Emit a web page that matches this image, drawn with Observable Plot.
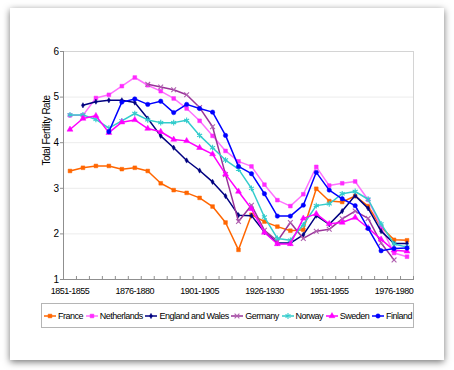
<!DOCTYPE html>
<html><head><meta charset="utf-8">
<script src="https://cdn.jsdelivr.net/npm/d3@7"></script>
<script src="https://cdn.jsdelivr.net/npm/@observablehq/plot@0.6"></script>
<style>
html,body{margin:0;padding:0;background:#fff;}
#wrap{position:relative;width:454px;height:370px;overflow:hidden;}
#card{position:absolute;left:10px;top:8px;width:434px;height:352px;background:#fff;box-shadow:0 2px 7px rgba(0,0,0,0.55);}
#chart{position:absolute;left:0;top:0;}
#legend{position:absolute;left:41px;top:303px;width:368px;height:23px;border:1px solid #b5b5b5;display:flex;align-items:center;justify-content:space-between;padding:0 1px 0 2px;
  font:9px "Liberation Sans",Arial,sans-serif;letter-spacing:-0.5px;color:#000;background:#fff;}
#legend .item{display:flex;align-items:center;white-space:nowrap;}
#legend svg{margin-right:2px;}
</style></head>
<body><div id="wrap"><div id="card"></div><div id="chart"></div><div id="legend"></div></div>
<script>
const periods = ["1851-1855","1856-1860","1861-1865","1866-1870","1871-1875","1876-1880","1881-1885","1886-1890","1891-1895","1896-1900","1901-1905","1906-1910","1911-1915","1916-1920","1921-1925","1926-1930","1931-1935","1936-1940","1941-1945","1946-1950","1951-1955","1956-1960","1961-1965","1966-1970","1971-1975","1976-1980","1981-1985"];
const tickLabels = ["1851-1855","1876-1880","1901-1905","1926-1930","1951-1955","1976-1980"];
const yTicks = [1,2,3,4,5,6];

const france      = [3.38,3.45,3.49,3.49,3.42,3.45,3.38,3.11,2.96,2.90,2.79,2.60,2.25,1.65,2.42,2.27,2.16,2.07,2.09,2.99,2.72,2.70,2.83,2.61,2.15,1.87,1.86];
const netherlands = [4.60,4.60,4.98,5.05,5.24,5.43,5.26,5.13,4.97,4.75,4.48,4.15,3.82,3.59,3.48,3.08,2.74,2.61,2.87,3.47,3.06,3.11,3.15,2.75,2.15,1.58,1.50];
const englandWales= [null,4.82,4.90,4.93,4.93,4.88,4.53,4.15,3.89,3.61,3.39,3.14,2.83,2.41,2.40,2.04,1.80,1.80,1.98,2.40,2.21,2.50,2.84,2.56,2.06,1.79,1.79];
const germany     = [null,null,null,null,null,null,5.28,5.22,5.16,5.05,4.77,4.35,3.30,2.27,2.63,2.08,1.84,2.25,1.90,2.06,2.10,2.33,2.50,2.34,1.80,1.43,null];
const norway      = [4.61,4.61,4.51,4.32,4.48,4.64,4.50,4.44,4.44,4.49,4.16,3.89,3.62,3.42,3.00,2.37,1.90,1.86,2.20,2.62,2.66,2.88,2.93,2.76,2.22,1.78,1.71];
const sweden      = [4.29,4.53,4.59,4.22,4.45,4.50,4.31,4.24,4.07,4.04,3.89,3.75,3.31,2.93,2.55,2.03,1.78,1.78,2.34,2.44,2.22,2.25,2.36,2.13,1.88,1.64,1.62];
const finland     = [null,null,null,4.24,4.89,4.96,4.84,4.91,4.66,4.84,4.75,4.67,4.16,3.48,3.32,2.88,2.39,2.39,2.63,3.35,2.96,2.77,2.62,2.12,1.63,1.68,1.69];

const seriesNames = ["France","Netherlands","England and Wales","Germany","Norway","Sweden","Finland"];
const seriesValues = [france, netherlands, englandWales, germany, norway, sweden, finland];
const styles = {
  "France":            {line:"#ff6600", mark:"#ff6600", symbol:"square",  r:2.1, filled:true},
  "Netherlands":       {line:"#ff70ff", mark:"#ff2bff", symbol:"square",  r:2.1, filled:true},
  "England and Wales": {line:"#000080", mark:"#000080", symbol:"diamond", r:1.6, filled:true},
  "Germany":           {line:"#993399", mark:"#b060b0", symbol:"times",   r:2.3, filled:false},
  "Norway":            {line:"#33cccc", mark:"#33cccc", symbol:"asterisk",r:2.7, filled:false},
  "Sweden":            {line:"#ff00ff", mark:"#ff00ff", symbol:"triangle",r:2.2, filled:true},
  "Finland":           {line:"#0000ff", mark:"#0000ff", symbol:"circle",  r:2.2, filled:true}
};

const W = 454, H = 300, mL = 63, mR = 41, mT = 51, mB = 21;
const half = (W - mL - mR) / periods.length / 2;
const font = '"Liberation Sans",Arial,sans-serif';
const axisGray = "#8f8f8f";

const seriesMarks = [];
seriesNames.forEach((name, k) => {
  const data = seriesValues[k].map((v, i) => ({period: periods[i], value: v})).filter(d => d.value != null);
  const s = styles[name];
  seriesMarks.push(Plot.line(data, {x: "period", y: "value", stroke: s.line, strokeWidth: 1.5}));
  seriesMarks.push(Plot.dot(data, {x: "period", y: "value", symbol: () => s.symbol, r: s.r,
    fill: s.filled ? s.mark : "none", stroke: s.mark, strokeWidth: s.filled ? 0.5 : 1.1}));
});

const chart = Plot.plot({
  width: W, height: H,
  marginLeft: mL, marginRight: mR, marginTop: mT, marginBottom: mB,
  style: {fontFamily: font, fontSize: "9px", letterSpacing: "-0.5px", color: "#000", background: "transparent", overflow: "visible"},
  x: {type: "point", domain: periods, padding: 0.5, round: false, label: null},
  y: {domain: [1, 6], label: null},
  symbol: {type: "identity"},
  marks: [
    Plot.gridY([2,3,4,5], {stroke: "#ececec", strokeOpacity: 1}),
    Plot.frame({stroke: "#d4d4d4"}),
    Plot.ruleY([1], {stroke: axisGray}),
    Plot.ruleX([periods[0]], {dx: -half, stroke: axisGray}),
    Plot.axisY(yTicks, {tickSize: 3, tickPadding: 2, stroke: axisGray, fill: "#000", label: null, fontSize: 10}),
    Plot.axisX(periods, {tickSize: 4, dy: -3, dx: -half, stroke: axisGray, fill: "none", label: null}),
    Plot.axisX([periods[periods.length - 1]], {tickSize: 4, dy: -3, dx: half, stroke: axisGray, fill: "none", label: null}),
    Plot.axisX(tickLabels, {tickSize: 0, tickPadding: 8, fill: "#000", label: null, fontSize: 9}),
    Plot.text(["Total Fertility Rate"], {text: d => d, frameAnchor: "left", rotate: -90, dx: -17, fontSize: 10, fill: "#000"}),
    ...seriesMarks
  ]
});
document.getElementById("chart").appendChild(chart);

// legend
const legend = document.getElementById("legend");
const symMap = {square: d3.symbolSquare, diamond: d3.symbolDiamond, times: d3.symbolTimes, asterisk: d3.symbolAsterisk, triangle: d3.symbolTriangle, circle: d3.symbolCircle};
seriesNames.forEach(name => {
  const s = styles[name];
  const item = document.createElement("span");
  item.className = "item";
  const svg = d3.create("svg").attr("width", 12).attr("height", 8);
  svg.append("line").attr("x1", 0).attr("x2", 12).attr("y1", 4).attr("y2", 4).attr("stroke", s.line).attr("stroke-width", 1.5);
  svg.append("path").attr("transform", "translate(6,4)")
    .attr("d", d3.symbol(symMap[s.symbol], s.r * s.r * Math.PI)())
    .attr("fill", s.filled ? s.mark : "none").attr("stroke", s.mark).attr("stroke-width", s.filled ? 0.5 : 1.1);
  item.appendChild(svg.node());
  const t = document.createElement("span");
  t.textContent = name;
  item.appendChild(t);
  legend.appendChild(item);
});
</script>
</body></html>
